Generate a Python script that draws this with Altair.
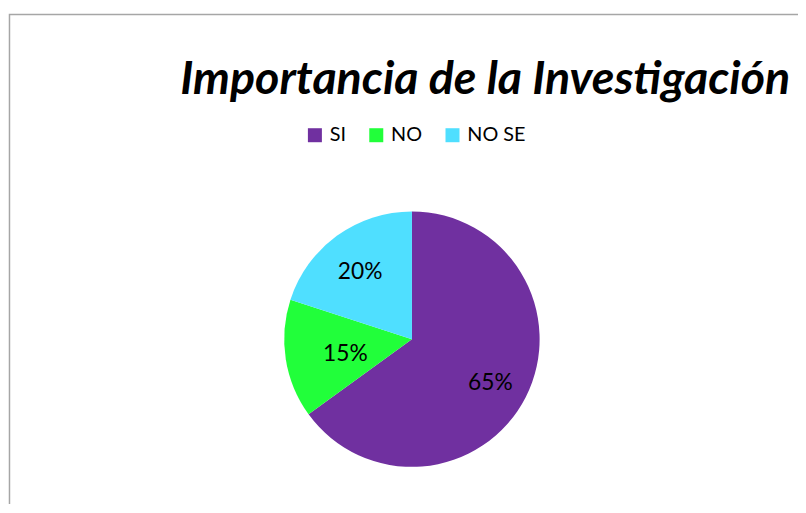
import altair as alt
import pandas as pd

categories = ["SI", "NO", "NO SE"]
values = [65, 15, 20]
colors = ["#7030A0", "#21FF3A", "#4FDFFF"]
title_text = "Importancia de la Investigación"

df = pd.DataFrame({
    "cat": categories,
    "value": values,
    "idx": list(range(len(categories))),
    "label": [f"{v}%" for v in values],
})

W, H = 798, 496
CX, CY, R = 408, 332, 129

base = alt.Chart(df)

color = alt.Color(
    "cat:N",
    scale=alt.Scale(domain=categories, range=colors),
    sort=categories,
    legend=alt.Legend(
        title=None,
        orient="none",
        legendX=300,
        legendY=116,
        direction="horizontal",
        symbolType="square",
        symbolSize=200,
        symbolStrokeWidth=0,
        labelFont="Lato",
        labelFontSize=20,
        labelColor="#000000",
        labelOffset=5,
        columnPadding=20,
        padding=0,
    ),
)

arcs = base.mark_arc(outerRadius=R).encode(
    theta=alt.Theta("value:Q", stack=True),
    color=color,
    order=alt.Order("idx:Q"),
    x=alt.value(CX),
    y=alt.value(CY),
)

labels = base.transform_joinaggregate(
    total="sum(value)"
).transform_window(
    cum="sum(value)", sort=[alt.SortField("idx")], frame=[None, 0]
).transform_calculate(
    mid="2 * PI * (datum.cum - datum.value / 2) / datum.total",
    r="datum.cat == 'NO' ? 68 : 89",
).mark_text(font="Lato", fontSize=23, color="#000000", dy=4).encode(
    theta=alt.Theta("mid:Q", scale=None),
    radius=alt.Radius("r:Q", scale=None),
    text="label:N",
    x=alt.value(CX),
    y=alt.value(CY),
)

frame = alt.Chart(pd.DataFrame({"t": [title_text]})).mark_rect(
    fillOpacity=0, stroke="#a6a6a6", strokeWidth=1.5
).encode(
    x=alt.value(1.5), x2=alt.value(1200), y=alt.value(4), y2=alt.value(1200)
)

title = alt.Chart(pd.DataFrame({"t": [title_text]})).mark_text(
    font="Lato", fontSize=47, fontWeight="bold", fontStyle="italic",
    align="left", baseline="alphabetic", color="#000000"
).encode(
    text="t:N", x=alt.value(174), y=alt.value(84)
)

chart = alt.layer(frame, arcs, labels, title).properties(
    width=W, height=H, padding=0, autosize="none",
    background="white",
).configure_view(stroke=None)

chart.save("out.html", embed_options={"renderer": "svg", "actions": False})
